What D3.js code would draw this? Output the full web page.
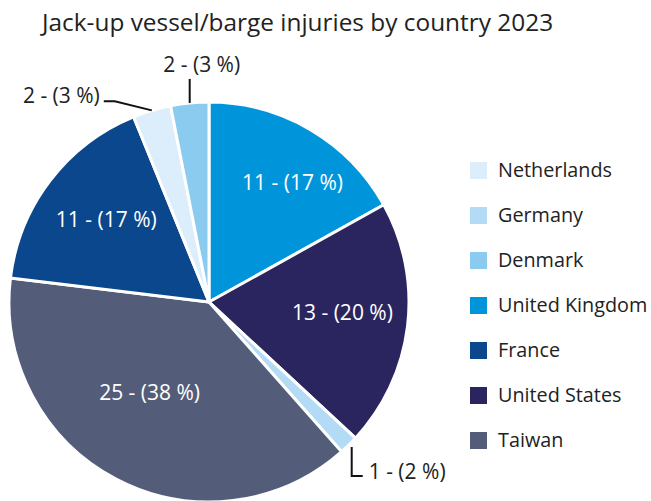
<!DOCTYPE html>
<html>
<head>
<meta charset="utf-8">
<script src="https://cdn.jsdelivr.net/npm/d3@7"></script>
<style>
  body { margin: 0; background: #fff; }
  svg { font-family: "Open Sans", "Noto Sans", sans-serif; }
</style>
</head>
<body>
<svg id="chart" width="651" height="501"></svg>
<script>
// slices in drawing order, clockwise from 12 o'clock
var countries = ['United Kingdom', 'United States', 'Germany', 'Taiwan', 'France', 'Netherlands', 'Denmark']
var injuries = [11, 13, 1, 25, 11, 2, 2]
var percents = [17, 20, 2, 38, 17, 3, 3]
// legend order
var legendOrder = ['Netherlands', 'Germany', 'Denmark', 'United Kingdom', 'France', 'United States', 'Taiwan']

var colors = {
  'Netherlands': '#dcedfb',
  'Germany': '#b3dbf5',
  'Denmark': '#8ccbf0',
  'United Kingdom': '#0095db',
  'France': '#0b478c',
  'United States': '#2b255f',
  'Taiwan': '#535d7a'
}

var svg = d3.select('#chart')
var cx = 209, cy = 302, radius = 200

svg.append('text')
  .attr('x', 42)
  .attr('y', 31)
  .attr('font-size', 24.4)
  .attr('fill', '#222')
  .text('Jack-up vessel/barge injuries by country 2023')

var data = countries.map((c, i) => ({ name: c, value: injuries[i], pct: percents[i] }))

var pie = d3.pie().sort(null).value(d => d.value)
var arcs = pie(data)
var arc = d3.arc().innerRadius(0).outerRadius(radius)

var g = svg.append('g').attr('transform', 'translate(' + cx + ',' + cy + ')')

g.selectAll('path.slice')
  .data(arcs)
  .enter().append('path')
  .attr('class', 'slice')
  .attr('d', arc)
  .attr('fill', d => colors[d.data.name])
  .attr('stroke', '#fff')
  .attr('stroke-width', 3)
  .attr('stroke-linejoin', 'round')

var labelText = d => d.data.value + ' - (' + d.data.pct + ' %)'

// inside labels for the big slices (best-fit nudges like the original)
var nudge = {
  'United Kingdom': [17.6, -7.4],
  'United States': [4.4, -4.7],
  'Taiwan': [1, -24],
  'France': [0.6, -3.8]
}
var labelArc = d3.arc().innerRadius(0).outerRadius(radius * 1.3)
g.selectAll('text.inner')
  .data(arcs.filter(d => d.data.value > 5))
  .enter().append('text')
  .attr('class', 'inner')
  .attr('transform', d => {
    var c = labelArc.centroid(d)
    var n = nudge[d.data.name] || [0, 0]
    return 'translate(' + (c[0] + n[0]) + ',' + (c[1] + n[1]) + ')'
  })
  .attr('text-anchor', 'middle')
  .attr('dy', '0.35em')
  .attr('font-size', 21)
  .attr('fill', '#fff')
  .text(labelText)

// outside labels with leader lines for the small slices
var edge = d => {
  var a = (d.startAngle + d.endAngle) / 2
  return [radius * Math.sin(a), -radius * Math.cos(a)]
}

arcs.filter(d => d.data.value <= 5).forEach(d => {
  var p = edge(d)
  var pts, tx, ty, anchor
  if (d.data.name === 'Denmark') {
    pts = [p, [p[0], p[1] - 24]]
    tx = p[0] + 12; ty = p[1] - 38; anchor = 'middle'
  } else if (d.data.name === 'Netherlands') {
    pts = [p, [p[0] - 37, p[1] - 9], [p[0] - 48, p[1] - 9]]
    tx = p[0] - 52; ty = p[1] - 14.5; anchor = 'end'
  } else {
    pts = [[p[0] + 3, p[1] + 2], [p[0] + 3, p[1] + 31], [p[0] + 14, p[1] + 31]]
    tx = p[0] + 20; ty = p[1] + 27; anchor = 'start'
  }
  g.append('path')
    .attr('d', d3.line()(pts))
    .attr('fill', 'none')
    .attr('stroke', '#111')
    .attr('stroke-width', 2)
  g.append('text')
    .attr('x', tx)
    .attr('y', ty)
    .attr('dy', '0.35em')
    .attr('text-anchor', anchor)
    .attr('font-size', 21)
    .attr('fill', '#222')
    .text(labelText(d))
})

// legend
var legend = svg.append('g').attr('transform', 'translate(470,162)')
var rows = legend.selectAll('g.row')
  .data(legendOrder)
  .enter().append('g')
  .attr('class', 'row')
  .attr('transform', (d, i) => 'translate(0,' + i * 45 + ')')

rows.append('rect')
  .attr('width', 17)
  .attr('height', 17)
  .attr('fill', d => colors[d])

rows.append('text')
  .attr('x', 28)
  .attr('y', 8.5)
  .attr('dy', '0.35em')
  .attr('font-size', 19.8)
  .attr('fill', '#222')
  .text(d => d)
</script>
</body>
</html>
